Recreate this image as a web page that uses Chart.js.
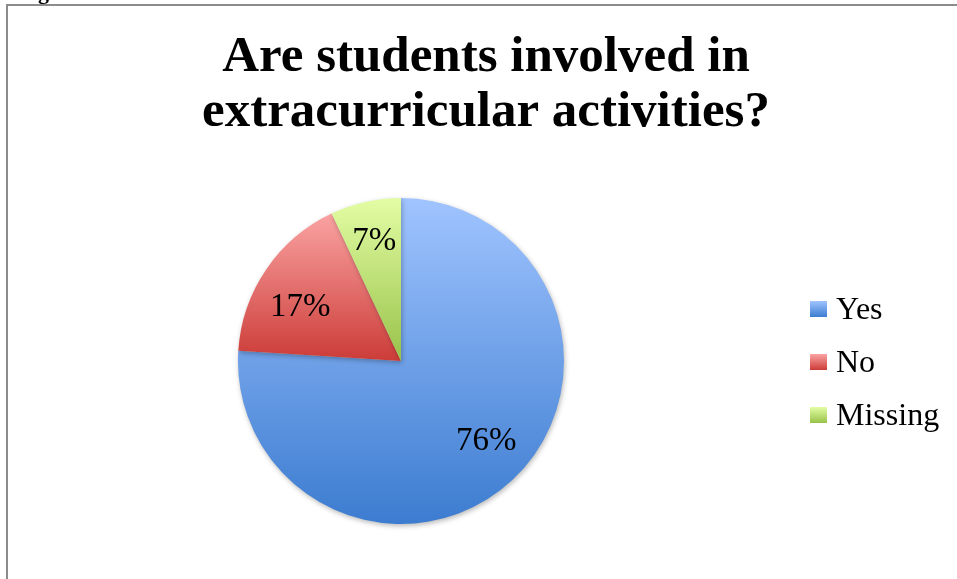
<!DOCTYPE html>
<html>
<head>
<meta charset="utf-8">
<title>Extracurricular activities</title>
<script src="https://cdn.jsdelivr.net/npm/chart.js@4/dist/chart.umd.min.js"></script>
<style>
    html, body { margin: 0; padding: 0; background: #ffffff; }
    canvas { display: block; }
</style>
</head>
<body>
<canvas id="activityChart" width="957" height="579"></canvas>
<script>
// Survey answers
const categories = ['Yes', 'No', 'Missing'];
const percentages = [76, 17, 7];
const titleLines = ['Are students involved in', 'extracurricular activities?'];

// Top / bottom gradient stops per slice
const topColors = ['#a0c4ff', '#faa3a2', '#e3fda4'];
const bottomColors = ['#3c7cd0', '#cc3c38', '#98c24a'];

// Label placement inside each slice: angle nudge (radians), radius fraction
const labelTurn = [-0.06, -0.11, 0];
const labelRadius = [0.72, 0.70, 0.75];

const SERIF = '"Liberation Serif", "Times New Roman", serif';

// Vertical extent of a pie slice (angles in canvas radians)
function sliceBounds(cx, cy, r, start, end) {
    const ys = [cy, cy + Math.sin(start) * r, cy + Math.sin(end) * r];
    // include top / bottom of the circle when the slice passes them
    [-Math.PI / 2, Math.PI / 2, 3 * Math.PI / 2].forEach(a => {
        if (a > start && a < end) ys.push(cy + Math.sin(a) * r);
    });
    return [Math.min(...ys), Math.max(...ys)];
}

function sliceGradient(ctx, index, y0, y1) {
    const g = ctx.createLinearGradient(0, y0, 0, Math.max(y1, y0 + 1));
    g.addColorStop(0, topColors[index]);
    g.addColorStop(1, bottomColors[index]);
    return g;
}

// Fill each slice with its own top-to-bottom gradient
function sliceFill(context) {
    const chart = context.chart;
    const area = chart.chartArea;
    if (!area) return topColors[context.dataIndex];
    const cx = (area.left + area.right) / 2;
    const cy = (area.top + area.bottom) / 2;
    const r = Math.min(area.width, area.height) / 2;
    const total = percentages.reduce((a, b) => a + b, 0);
    let start = -Math.PI / 2;
    for (let i = 0; i < context.dataIndex; i++) {
        start += percentages[i] / total * Math.PI * 2;
    }
    const end = start + percentages[context.dataIndex] / total * Math.PI * 2;
    const [y0, y1] = sliceBounds(cx, cy, r, start, end);
    return sliceGradient(chart.ctx, context.dataIndex, y0, y1);
}

// Soft shadow under the pie
const pieShadow = {
    id: 'pieShadow',
    beforeDatasetsDraw(chart) {
        const ctx = chart.ctx;
        ctx.save();
        ctx.shadowColor = 'rgba(0, 0, 0, 0.28)';
        ctx.shadowBlur = 5;
        ctx.shadowOffsetX = 1;
        ctx.shadowOffsetY = 2;
    },
    afterDatasetsDraw(chart) {
        chart.ctx.restore();
    }
};

// Frame, title, percentage labels and legend
const decorations = {
    id: 'decorations',
    afterDraw(chart) {
        const ctx = chart.ctx;
        ctx.save();

        // frame lines
        ctx.strokeStyle = '#8c8c8c';
        ctx.lineWidth = 2;
        ctx.beginPath();
        ctx.moveTo(7, 579);
        ctx.lineTo(7, 5);
        ctx.lineTo(957, 5);
        ctx.stroke();

        // caption text cut off above the frame
        ctx.fillStyle = '#000000';
        ctx.font = 'bold 22px ' + SERIF;
        ctx.textAlign = 'left';
        ctx.textBaseline = 'alphabetic';
        ctx.fillText('g', 38, -1);

        // title
        ctx.font = 'bold 51px ' + SERIF;
        ctx.textAlign = 'center';
        ctx.fillText(titleLines[0], 486, 71);
        ctx.fillText(titleLines[1], 486, 126);

        // percentage labels inside the slices
        ctx.font = '33px ' + SERIF;
        ctx.textBaseline = 'middle';
        const meta = chart.getDatasetMeta(0);
        meta.data.forEach((arc, i) => {
            const p = arc.getProps(['x', 'y', 'startAngle', 'endAngle', 'outerRadius'], true);
            const mid = (p.startAngle + p.endAngle) / 2 + labelTurn[i];
            const r = p.outerRadius * labelRadius[i];
            ctx.fillText(percentages[i] + '%', p.x + Math.cos(mid) * r, p.y + Math.sin(mid) * r);
        });

        // legend
        ctx.font = '32px ' + SERIF;
        ctx.textAlign = 'left';
        ctx.textBaseline = 'alphabetic';
        categories.forEach((name, i) => {
            const y = 319 + i * 53;
            ctx.fillStyle = sliceGradient(ctx, i, y - 18, y - 2);
            ctx.fillRect(810, y - 18, 17, 16);
            ctx.fillStyle = '#000000';
            ctx.fillText(name, 836, y);
        });

        ctx.restore();
    }
};

new Chart(document.getElementById('activityChart'), {
    type: 'pie',
    data: {
        labels: categories,
        datasets: [{
            data: percentages,
            backgroundColor: sliceFill,
            borderWidth: 0,
            hoverOffset: 0
        }]
    },
    options: {
        responsive: false,
        animation: false,
        events: [],
        layout: {
            padding: { left: 238, top: 198, right: 393, bottom: 55 }
        },
        plugins: {
            legend: { display: false },
            title: { display: false },
            tooltip: { enabled: false }
        }
    },
    plugins: [pieShadow, decorations]
});
</script>
</body>
</html>
